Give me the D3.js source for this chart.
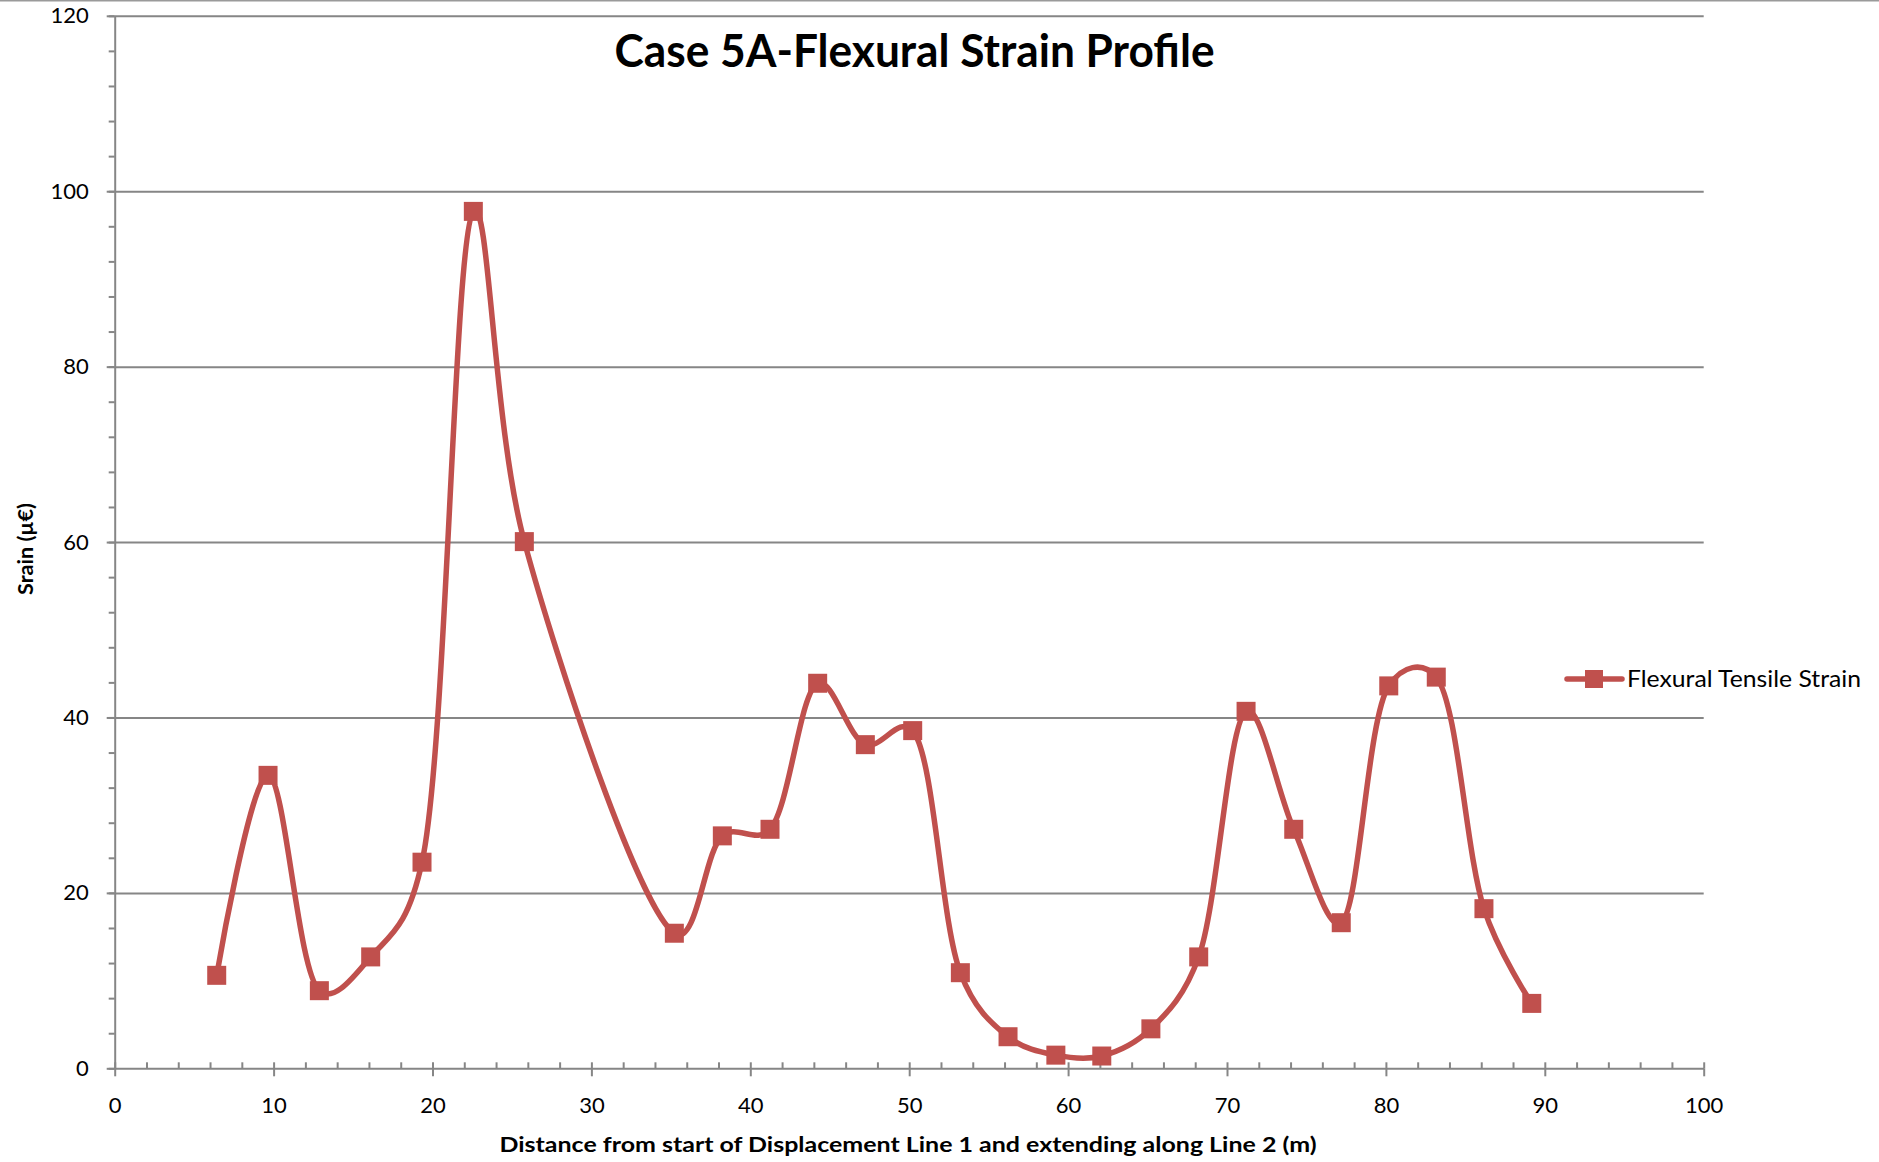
<!DOCTYPE html>
<html lang="en">
<head>
    <meta charset="UTF-8">
    <title>Case 5A-Flexural Strain Profile</title>
    <script src="https://d3js.org/d3.v7.min.js"></script>
    <style>
        body {
            margin: 0;
            background-color: #fff;
            font-family: Lato, 'Open Sans', sans-serif;
        }

        .axis path, .axis line, .grid line {
            stroke: #868686;
            stroke-width: 2;
        }

        .grid path {
            display: none;
        }

        .axis text {
            font-family: Lato, sans-serif;
            font-size: 22px;
            fill: #000;
        }

        .title {
            font-size: 46px;
            font-weight: bold;
        }

        .axis-title {
            font-size: 21px;
            font-weight: bold;
        }

        .legend-text {
            font-size: 23px;
        }
    </style>
</head>
<body>
    <svg width="1879" height="1162"></svg>

    <script>
        // distance along the line (m) and flexural tensile strain (µ€)
        var distance = [6.42, 9.65, 12.88, 16.11, 19.34, 22.57, 25.78, 35.22, 38.24, 41.24,
                        44.24, 47.24, 50.22, 53.22, 56.22, 59.23, 62.12, 65.21, 68.22, 71.2,
                        74.2, 77.19, 80.18, 83.17, 86.17, 89.18];
        var strain = [10.6, 33.4, 8.85, 12.7, 23.5, 97.7, 60.05, 15.4, 26.5, 27.25,
                      43.9, 36.9, 38.5, 10.9, 3.6, 1.5, 1.4, 4.5, 12.7, 40.7,
                      27.25, 16.6, 43.6, 44.6, 18.2, 7.4];

        var xTicks = [0, 10, 20, 30, 40, 50, 60, 70, 80, 90, 100];
        var yTicks = [0, 20, 40, 60, 80, 100, 120];
        var seriesName = "Flexural Tensile Strain";

        var data = distance.map(function(d, i) { return { x: d, y: strain[i] }; });

        var plotLeft = 114.7, plotRight = 1703.7, plotTop = 15.8, plotBottom = 1068.3;
        var red = "#C0504D";

        var svg = d3.select("svg");

        var xScale = d3.scaleLinear().domain([0, 100]).range([plotLeft, plotRight]);
        var yScale = d3.scaleLinear().domain([0, 120]).range([plotBottom, plotTop]);

        // thin border along the top of the chart area
        svg.append("line")
            .attr("x1", 0).attr("x2", 1879)
            .attr("y1", 0.75).attr("y2", 0.75)
            .attr("stroke", "#9a9a9a")
            .attr("stroke-width", 1.5);

        // horizontal gridlines
        svg.append("g")
            .attr("class", "grid")
            .attr("transform", "translate(" + plotLeft + ",0)")
            .call(d3.axisLeft(yScale)
                .tickValues(yTicks.slice(1))
                .tickSize(-(plotRight - plotLeft))
                .tickFormat(""));

        // minor ticks
        svg.append("g")
            .attr("class", "axis")
            .attr("transform", "translate(" + plotLeft + ",0)")
            .call(d3.axisLeft(yScale).tickValues(d3.range(0, 121, 4)).tickSize(6).tickFormat(""))
            .select(".domain").remove();

        svg.append("g")
            .attr("class", "axis")
            .attr("transform", "translate(0," + plotBottom + ")")
            .call(d3.axisBottom(xScale).tickValues(d3.range(0, 101, 2)).tickSize(-6).tickFormat(""))
            .select(".domain").remove();

        // main axes
        svg.append("g")
            .attr("class", "axis")
            .attr("transform", "translate(" + plotLeft + ",0)")
            .call(d3.axisLeft(yScale).tickValues(yTicks).tickSize(8).tickSizeOuter(0).tickPadding(18));

        svg.append("g")
            .attr("class", "axis")
            .attr("transform", "translate(0," + plotBottom + ")")
            .call(d3.axisBottom(xScale).tickValues(xTicks).tickSize(8).tickSizeOuter(0).tickPadding(21));

        // the smoothed series
        var line = d3.line()
            .x(function(d) { return xScale(d.x); })
            .y(function(d) { return yScale(d.y); })
            .curve(d3.curveCatmullRom.alpha(0.3));

        svg.append("path")
            .datum(data)
            .attr("d", line)
            .attr("fill", "none")
            .attr("stroke", red)
            .attr("stroke-width", 5.5)
            .attr("stroke-linejoin", "round")
            .attr("stroke-linecap", "round");

        var m = 19;
        svg.selectAll(".marker")
            .data(data)
            .enter().append("rect")
            .attr("class", "marker")
            .attr("x", function(d) { return xScale(d.x) - m / 2; })
            .attr("y", function(d) { return yScale(d.y) - m / 2; })
            .attr("width", m)
            .attr("height", m)
            .attr("fill", red);

        // titles
        svg.append("text")
            .attr("class", "title")
            .attr("x", 914.5)
            .attr("y", 67)
            .attr("text-anchor", "middle")
            .attr("textLength", 600)
            .attr("lengthAdjust", "spacingAndGlyphs")
            .text("Case 5A-Flexural Strain Profile");

        svg.append("text")
            .attr("class", "axis-title")
            .attr("x", 908)
            .attr("y", 1152)
            .attr("text-anchor", "middle")
            .attr("textLength", 817)
            .attr("lengthAdjust", "spacingAndGlyphs")
            .text("Distance from start of Displacement Line 1 and extending along Line 2 (m)");

        svg.append("text")
            .attr("class", "axis-title")
            .attr("transform", "translate(33,549) rotate(-90)")
            .attr("text-anchor", "middle")
            .attr("textLength", 92)
            .attr("lengthAdjust", "spacingAndGlyphs")
            .text("Srain (µ€)");

        // legend
        var legend = svg.append("g").attr("transform", "translate(1567,679)");
        legend.append("line")
            .attr("x1", 0).attr("x2", 55)
            .attr("stroke", red)
            .attr("stroke-width", 5.5)
            .attr("stroke-linecap", "round");
        legend.append("rect")
            .attr("x", 18).attr("y", -9)
            .attr("width", 18).attr("height", 18)
            .attr("fill", red);
        legend.append("text")
            .attr("class", "legend-text")
            .attr("x", 60)
            .attr("y", 8)
            .attr("textLength", 234)
            .attr("lengthAdjust", "spacingAndGlyphs")
            .text(seriesName);
    </script>
</body>
</html>
